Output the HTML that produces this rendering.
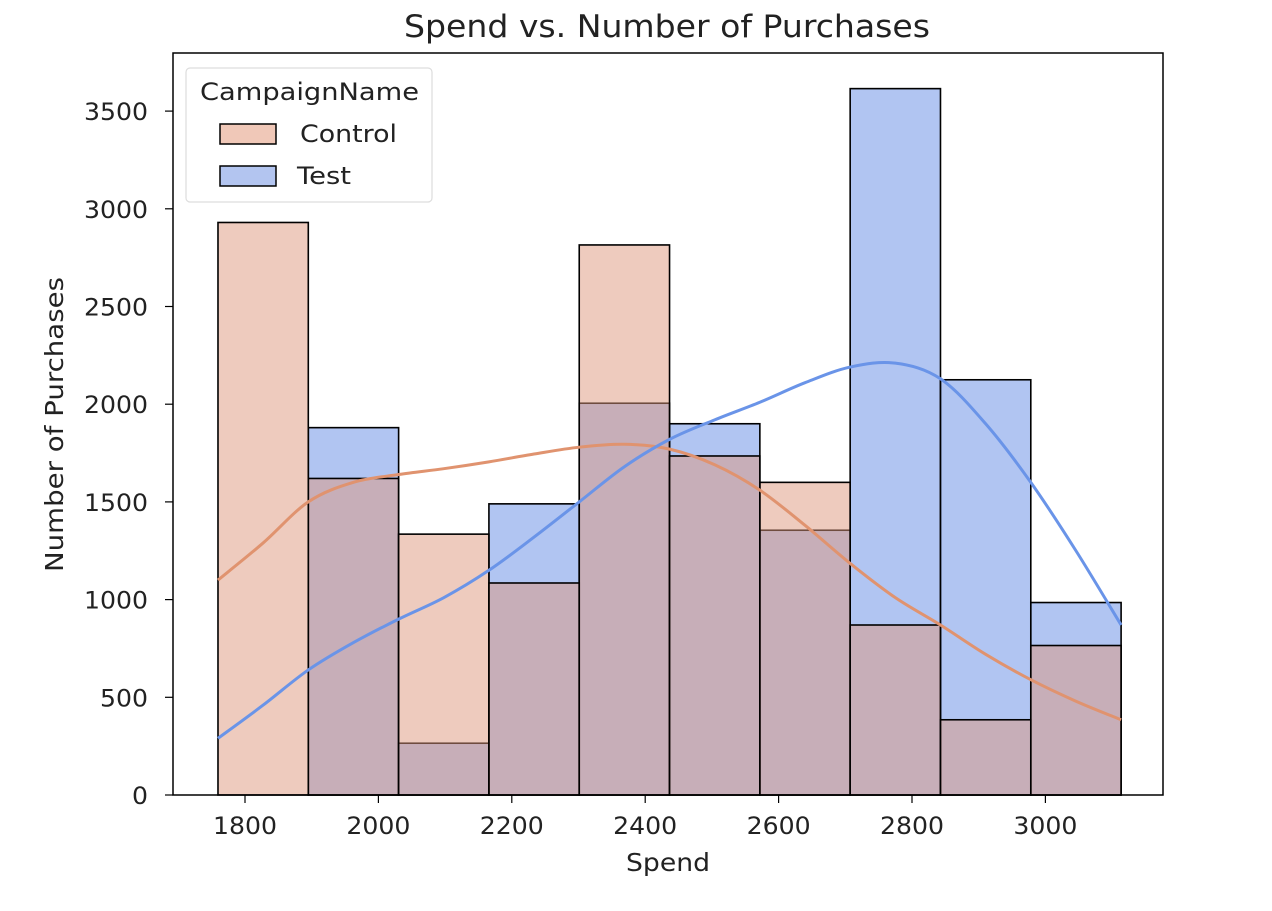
<!DOCTYPE html>
<html><head><meta charset="utf-8"><style>
html,body{margin:0;padding:0;background:#fff;}
svg text{font-family:"DejaVu Sans","Liberation Sans",sans-serif;fill:#222;}
</style></head><body>
<svg id="chart" width="1272" height="906" xmlns="http://www.w3.org/2000/svg">
<text x="404" y="37" font-size="31" textLength="526" lengthAdjust="spacingAndGlyphs">Spend vs. Number of Purchases</text>
<g id="bars"></g>
<g id="lines"></g>
<rect x="173" y="53" width="990" height="742" fill="none" stroke="#000" stroke-width="1.5"/>
<g id="xticks"></g>
<g id="yticks"></g>
<text x="626" y="871" font-size="25" textLength="84" lengthAdjust="spacingAndGlyphs">Spend</text>
<text transform="translate(63,572) rotate(-90)" font-size="25" textLength="295" lengthAdjust="spacingAndGlyphs">Number of Purchases</text>
<g>
<rect x="186" y="68" width="246" height="134" rx="4" fill="#fff" fill-opacity="0.8" stroke="#ddd" stroke-width="1.2"/>
<text x="200" y="100" font-size="24" textLength="219" lengthAdjust="spacingAndGlyphs">CampaignName</text>
<g>
<rect x="220" y="124" width="56" height="20" fill="rgb(240,200,184)" stroke="#000" stroke-width="1.5"/>
<text x="300" y="142" font-size="24" textLength="97" lengthAdjust="spacingAndGlyphs">Control</text></g>
<g>
<rect x="220" y="166" width="56" height="20" fill="rgb(179,197,240)" stroke="#000" stroke-width="1.5"/>
<text x="297" y="184" font-size="24" textLength="54" lengthAdjust="spacingAndGlyphs">Test</text></g>
</g>
</svg>
<script>
const binStart = 1759.5;
const binWidth = 135.4;
const controlCounts = [2930, 1620, 1335, 1085, 2815, 1735, 1600, 870, 385, 765];
const testCounts = [0, 1880, 265, 1490, 2005, 1900, 1355, 3615, 2125, 985];
const kdeX = [1759.5, 1827.2, 1894.9, 1962.6, 2030.3, 2098, 2165.7, 2233.4, 2301.1, 2368.8, 2436.5, 2504.2, 2571.9, 2639.6, 2707.3, 2775, 2842.7, 2910.4, 2978.1, 3045.8, 3113.5];
const controlKde = [1100, 1290, 1500, 1600, 1640, 1670, 1705, 1745, 1780, 1795, 1770, 1690, 1560, 1380, 1185, 1010, 870, 720, 590, 480, 385];
const testKde = [290, 460, 640, 780, 900, 1010, 1150, 1320, 1500, 1680, 1820, 1920, 2010, 2110, 2190, 2210, 2130, 1900, 1600, 1250, 870];
const xTicks = [1800, 2000, 2200, 2400, 2600, 2800, 3000];
const yTicks = [0, 500, 1000, 1500, 2000, 2500, 3000, 3500];

const NS = "http://www.w3.org/2000/svg";
const xs = v => 245 + (v - 1800) * 0.667;
const ys = v => 795 - v * 0.1954;
function mk(tag, attrs, parent){const e=document.createElementNS(NS,tag);for(const k in attrs)e.setAttribute(k,attrs[k]);parent.appendChild(e);return e;}

const bars = document.getElementById('bars');
testCounts.forEach((c,i)=>{
  if(c<=0) return;
  const x0=xs(binStart+i*binWidth), x1=xs(binStart+(i+1)*binWidth);
  const r=mk('rect',{x:x0,y:ys(c),width:x1-x0,height:ys(0)-ys(c),fill:'rgb(100,140,230)','fill-opacity':0.5,stroke:'#000','stroke-width':1.6},bars);
  
  
});
controlCounts.forEach((c,i)=>{
  const x0=xs(binStart+i*binWidth), x1=xs(binStart+(i+1)*binWidth);
  const r=mk('rect',{x:x0,y:ys(c),width:x1-x0,height:ys(0)-ys(c),fill:'rgb(222,152,126)','fill-opacity':0.5,stroke:'#000','stroke-width':1.6},bars);
  
  
});

function smoothPath(xsArr, ysArr){
  const p=xsArr.map((x,i)=>[xs(x),ys(ysArr[i])]);
  let d='M'+p[0][0]+','+p[0][1];
  for(let i=0;i<p.length-1;i++){
    const p0=p[Math.max(i-1,0)],p1=p[i],p2=p[i+1],p3=p[Math.min(i+2,p.length-1)];
    const c1=[p1[0]+(p2[0]-p0[0])/6,p1[1]+(p2[1]-p0[1])/6];
    const c2=[p2[0]-(p3[0]-p1[0])/6,p2[1]-(p3[1]-p1[1])/6];
    d+=' C'+c1+' '+c2+' '+p2;
  }
  return d;
}
const lines=document.getElementById('lines');
const lc=mk('path',{d:smoothPath(kdeX,controlKde),fill:'none',stroke:'#e0936f','stroke-width':3},lines);


const lt=mk('path',{d:smoothPath(kdeX,testKde),fill:'none',stroke:'#6a94e8','stroke-width':3},lines);



const xt=document.getElementById('xticks');
xTicks.forEach(v=>{
  const x=xs(v);
  const l=mk('line',{x1:x,x2:x,y1:795,y2:803,stroke:'#000','stroke-width':1.2},xt);
  
  
  const t=mk('text',{x:x-32,y:834,'font-size':24,textLength:64,lengthAdjust:'spacingAndGlyphs'},xt);
  t.textContent=v;
  
  
});
const yt=document.getElementById('yticks');
yTicks.forEach(v=>{
  const y=ys(v);
  const l=mk('line',{x1:165,x2:173,y1:y,y2:y,stroke:'#000','stroke-width':1.2},yt);
  
  
  const s=String(v);
  const w=16*s.length;
  const t=mk('text',{x:148-w,y:y+9,'font-size':24,textLength:w,lengthAdjust:'spacingAndGlyphs'},yt);
  t.textContent=s;
  
  
});
</script>
</body></html>
